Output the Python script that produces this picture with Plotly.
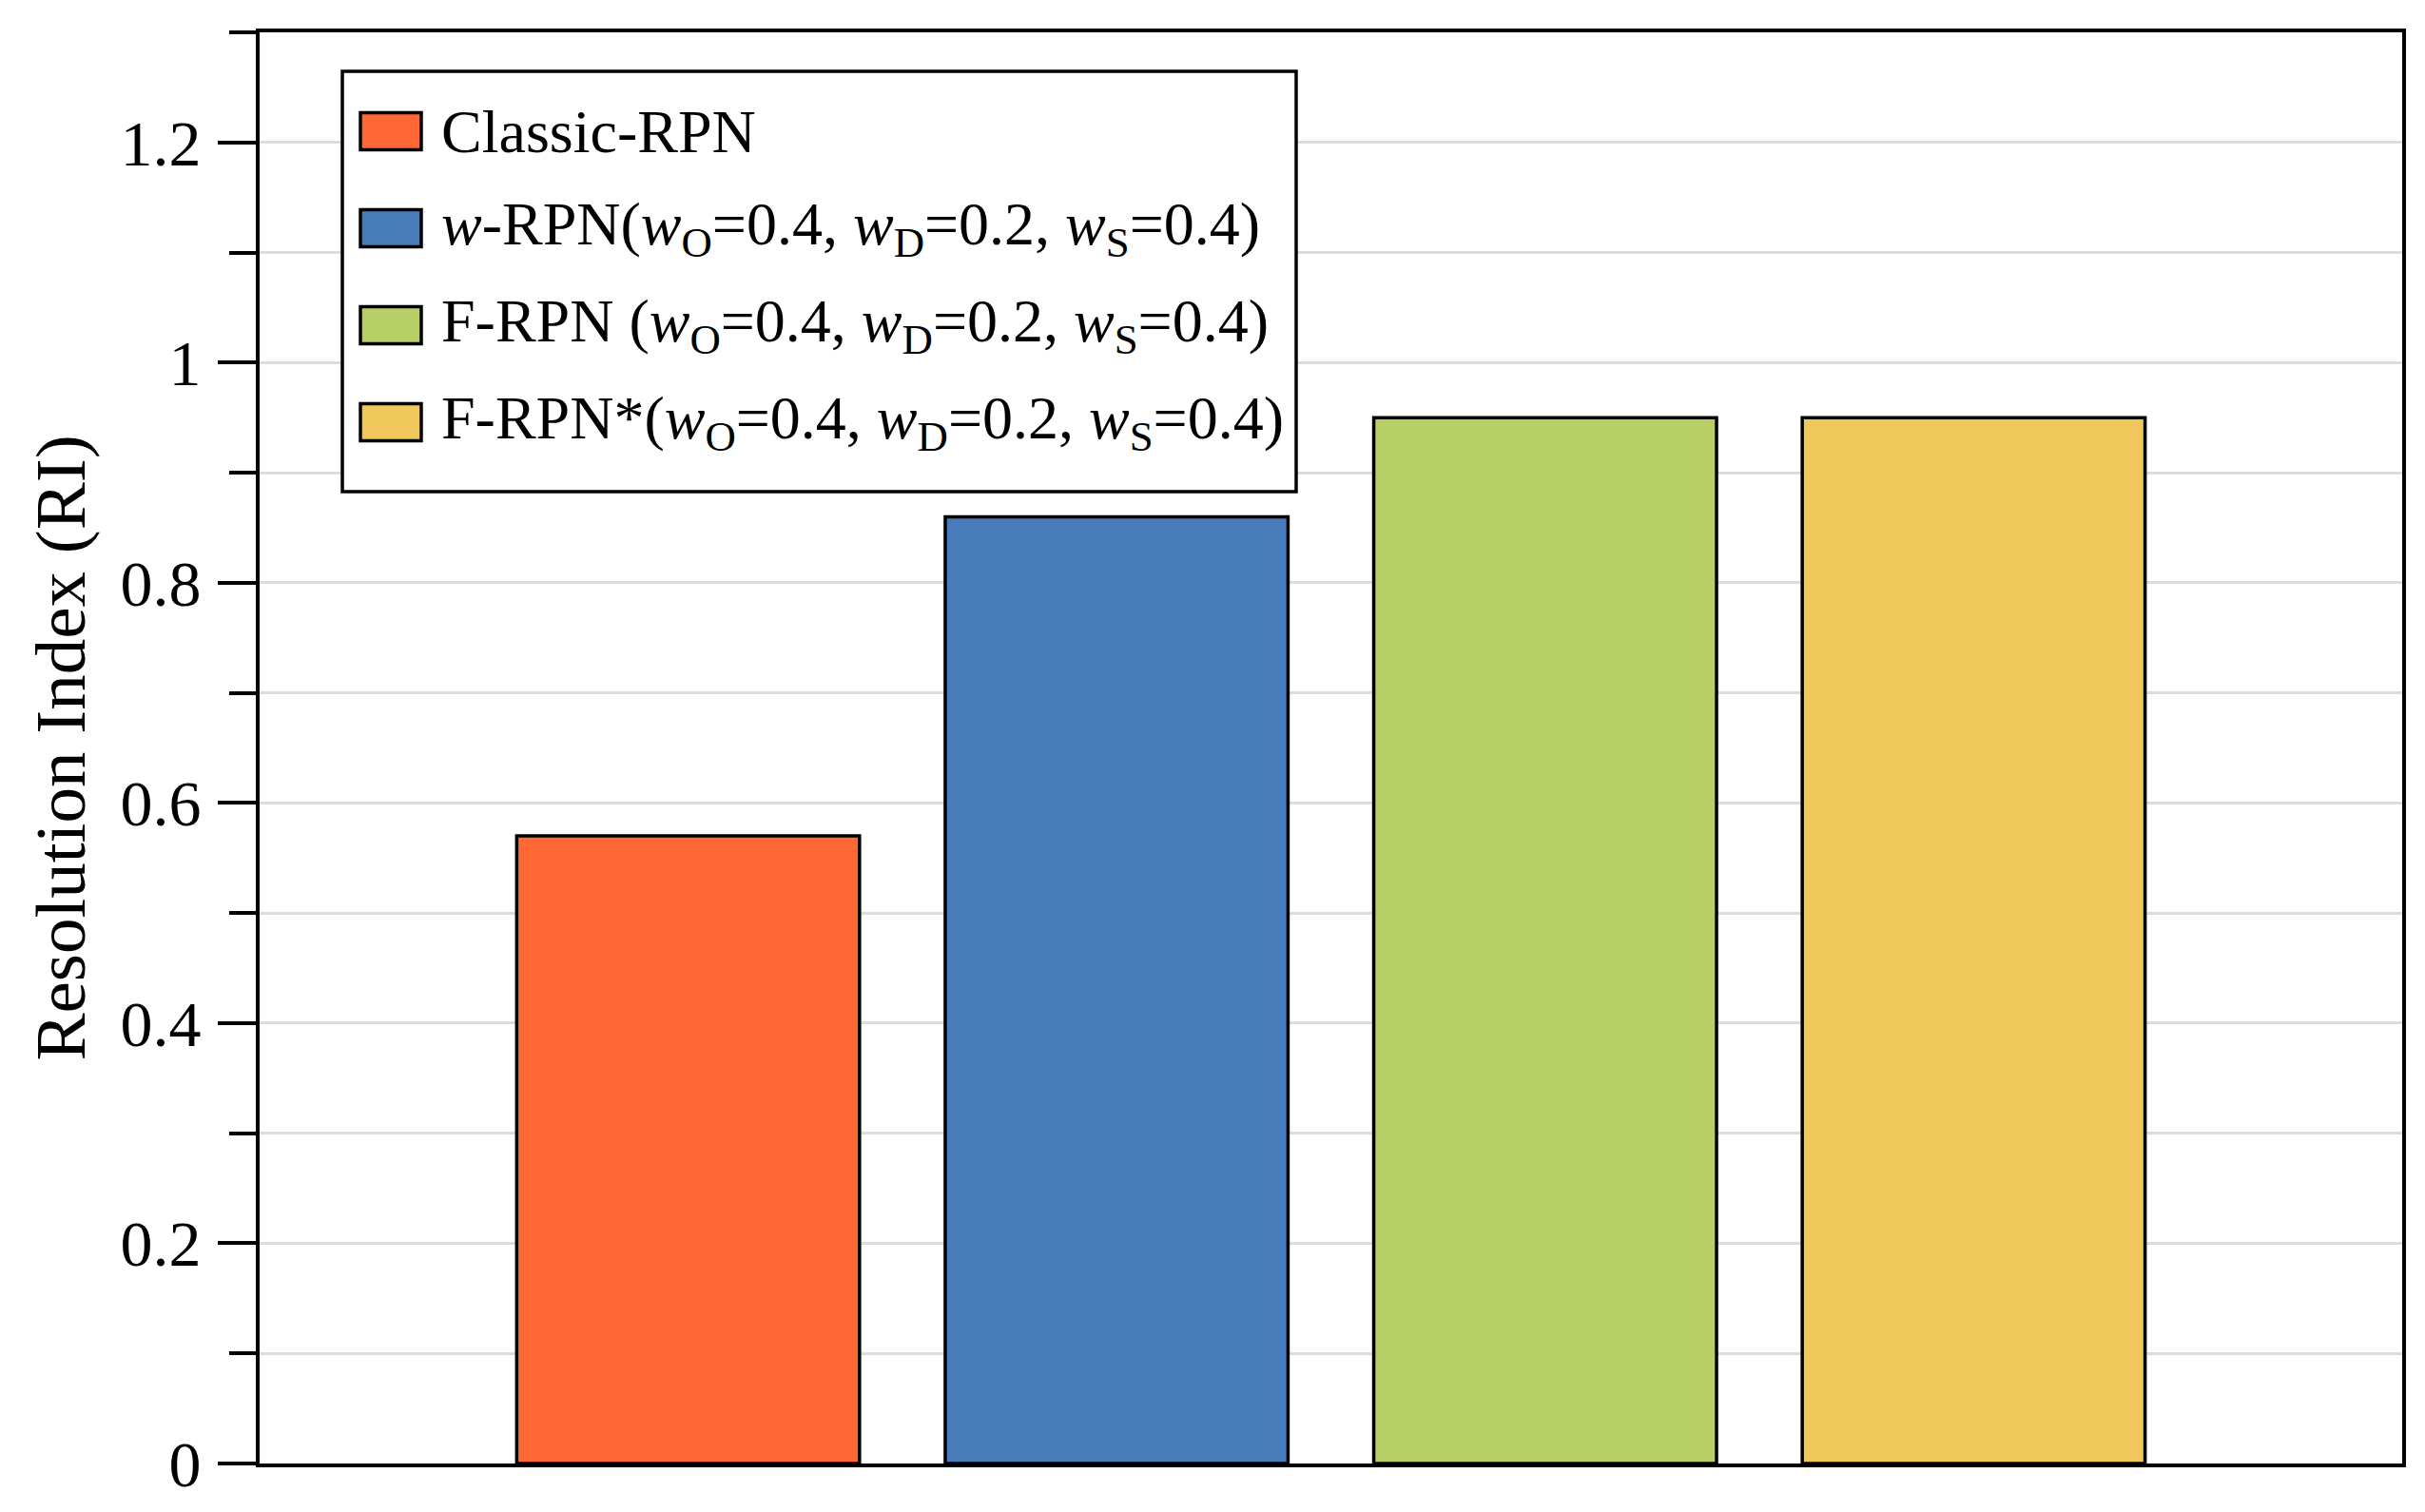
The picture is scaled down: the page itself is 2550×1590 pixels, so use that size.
import plotly.graph_objects as go

# ---- data ----
series_names = [
    "Classic-RPN",
    "<i>w</i>-RPN(<i>w</i><sub>O</sub>=0.4, <i>w</i><sub>D</sub>=0.2, <i>w</i><sub>S</sub>=0.4)",
    "F-RPN (<i>w</i><sub>O</sub>=0.4, <i>w</i><sub>D</sub>=0.2, <i>w</i><sub>S</sub>=0.4)",
    "F-RPN*(<i>w</i><sub>O</sub>=0.4, <i>w</i><sub>D</sub>=0.2, <i>w</i><sub>S</sub>=0.4)",
]
ri_values = [0.57, 0.86, 0.95, 0.95]
y_tick_vals = [0, 0.2, 0.4, 0.6, 0.8, 1.0, 1.2]
y_tick_text = ["0", "0.2", "0.4", "0.6", "0.8", "1", "1.2"]

# ---- style ----
colors = ["#FF6835", "#477BBA", "#B8CE67", "#EFC75A"]
FONT = "Liberation Serif"
W, H = 2550, 1590
OFF = 8  # default page body margin
# target plot area in page pixels
PL, PR, PT, PB = 273, 2526, 34, 1539
ML, MT = PL - OFF, PT - OFF
MR, MB = W - (PR - OFF), H - (PB - OFF)
PW, PH = PR - PL, PB - PT


def px_x(px):
    return (px - PL) / PW


def px_y(py):
    return (PB - py) / PH


fig = go.Figure()
for i, (name, val, col) in enumerate(zip(series_names, ri_values, colors)):
    fig.add_trace(go.Bar(
        x=[i + 1], y=[val], name=name, width=0.8,
        marker=dict(color=col, line=dict(color="black", width=3.5)),
        showlegend=False,
    ))

# custom legend (large swatches)
leg_x0, leg_x1, leg_y0, leg_y1 = 360, 1363, 75, 517
row_y = [138, 240, 342, 444]
sw_x0, sw_x1, sw_h = 379, 443, 39
txt_x = 462

shapes = [dict(type="rect", xref="paper", yref="paper",
               x0=px_x(leg_x0), x1=px_x(leg_x1), y0=px_y(leg_y1), y1=px_y(leg_y0),
               line=dict(color="black", width=3.5), fillcolor="white", layer="above")]
annotations = []
for name, col, ry in zip(series_names, colors, row_y):
    shapes.append(dict(type="rect", xref="paper", yref="paper",
                       x0=px_x(sw_x0), x1=px_x(sw_x1),
                       y0=px_y(ry + sw_h / 2), y1=px_y(ry - sw_h / 2),
                       line=dict(color="black", width=3.5), fillcolor=col, layer="above"))
    annotations.append(dict(xref="paper", yref="paper", x=px_x(txt_x), y=px_y(ry),
                            xanchor="left", yanchor="middle", text=name, showarrow=False,
                            font=dict(family=FONT, size=64, color="black")))

fig.update_layout(
    width=W, height=H,
    margin=dict(l=ML, r=MR, t=MT, b=MB, pad=0),
    paper_bgcolor="white", plot_bgcolor="white",
    barmode="overlay",
    font=dict(family=FONT, color="black"),
    shapes=shapes, annotations=annotations,
    xaxis=dict(range=[0, 5], showticklabels=False, ticks="", showgrid=False,
               zeroline=False, showline=True, linecolor="black", linewidth=4, mirror=True),
    yaxis=dict(range=[0, 1.3], tickvals=y_tick_vals, ticktext=y_tick_text,
               ticks="outside", ticklen=40, tickwidth=4, tickcolor="black",
               tickfont=dict(family=FONT, size=68, color="black"),
               ticklabelstandoff=4,
               showgrid=True, gridcolor="#DCDCDC", gridwidth=3,
               minor=dict(dtick=0.1, ticks="outside", ticklen=28, tickwidth=4,
                          tickcolor="black", showgrid=True, gridcolor="#DCDCDC", gridwidth=3),
               zeroline=False, showline=True, linecolor="black", linewidth=4, mirror=True,
               title=dict(text="Resolution Index (RI)", standoff=13,
                          font=dict(family=FONT, size=75, color="black"))),
    yaxis2=dict(range=[0, 1.3], matches="y", overlaying="y", side="left",
                tickvals=y_tick_vals, ticks="inside", ticklen=40, tickwidth=4,
                tickcolor="black", showticklabels=False, showgrid=False, zeroline=False,
                minor=dict(dtick=0.1, ticks="inside", ticklen=28, tickwidth=4,
                           tickcolor="black", showgrid=False),
                showline=False),
)

fig.write_html("out.html")
